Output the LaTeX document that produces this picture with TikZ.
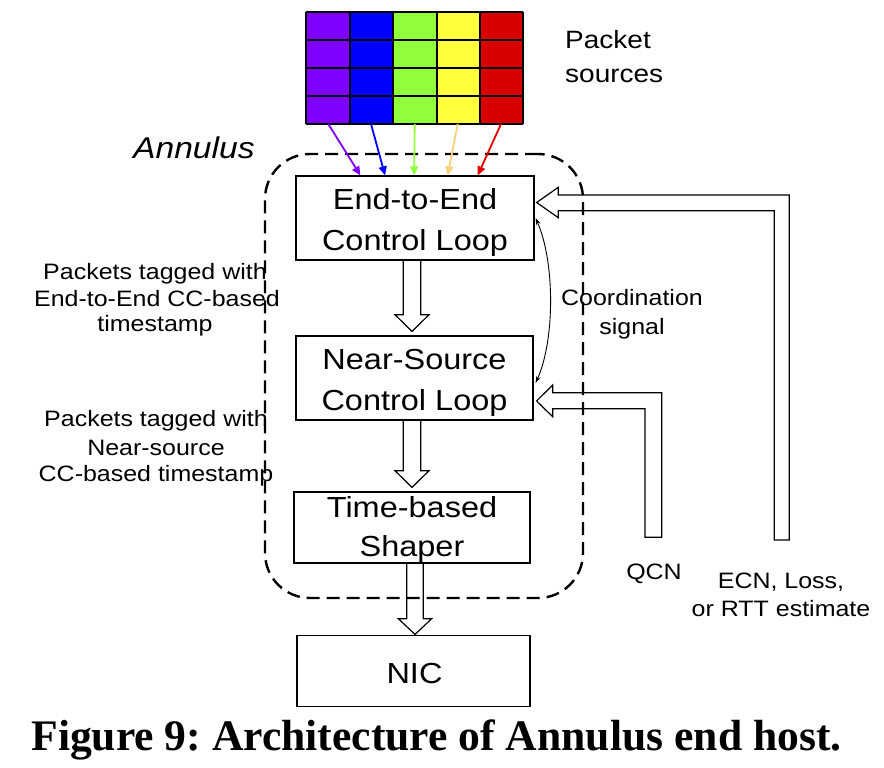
\documentclass[tikz,border=0pt]{standalone}
\usepackage{fontspec}
\setmainfont{Liberation Sans}[FakeStretch=1.12]
\newfontfamily\capfont{Liberation Serif}
\usetikzlibrary{arrows.meta,calc}
\definecolor{cpur}{HTML}{8000FF}
\definecolor{cblu}{HTML}{0000FF}
\definecolor{cgrn}{HTML}{92FF3C}
\definecolor{cyel}{HTML}{FFFF3C}
\definecolor{cred}{HTML}{D80000}
\definecolor{aorg}{HTML}{F5D27A}
\definecolor{ared}{HTML}{E00000}
\frenchspacing
\begin{document}
\begin{tikzpicture}[x=1pt,y=-1pt,
  box/.style={draw, line width=1.2pt, inner sep=0},
  big/.style={font=\fontsize{29}{35}\selectfont, anchor=base, inner sep=0},
  small/.style={font=\fontsize{22.3}{26}\selectfont, anchor=base, inner sep=0},
  mid/.style={font=\fontsize{25}{30}\selectfont, anchor=base west, inner sep=0},
  hollow/.style={draw, line width=1.2pt, line join=miter},
  src/.style={line width=1.8pt, -{Triangle[length=9pt,width=8pt]}},
  ann/.style={draw, line width=2.4pt, dash pattern=on 13pt off 7pt, rounded corners=45pt, inner sep=0}
]
\useasboundingbox (0,0) rectangle (884,768);

% packet source grid
\fill[cpur] (305.7,11.7) rectangle (350,124);
\fill[cblu] (350,11.7) rectangle (393.3,124);
\fill[cgrn] (393.3,11.7) rectangle (436.7,124);
\fill[cyel] (436.7,11.7) rectangle (480.3,124);
\fill[cred] (480.3,11.7) rectangle (523.3,124);
\foreach \x in {305.7,350,393.3,436.7,480.3,523.3}
  \draw[line width=2pt] (\x,11.7) -- (\x,124);
\foreach \y in {11.7,39.7,67.7,96,124}
  \draw[line width=2pt] (305.7,\y) -- (523.3,\y);

% boxes
\node[box, minimum width=238pt, minimum height=84pt] (e2e) at (415,218) {};
\node[box, minimum width=237pt, minimum height=84pt] (ns) at (414.5,378) {};
\node[box, minimum width=236pt, minimum height=71pt] (shp) at (412,527.5) {};
\node[box, minimum width=233pt, minimum height=71pt] (nic) at (413.5,671.2) {};

% annulus boundary
\node[ann, minimum width=318pt, minimum height=444pt] (annb) at (424,376) {};

% box texts
\node[big] (t1a) at (415,209) {End-to-End};
\node[big] (t1b) at (415,250) {Control Loop};
\node[big] (t2a) at (414.5,369) {Near-Source};
\node[big] (t2b) at (414.5,410) {Control Loop};
\node[big] (t3a) at (412,517) {Time-based};
\node[big] (t3b) at (412,556) {Shaper};
\node[big] (t4) at (414.5,683) {NIC};

% labels
\node[font=\fontsize{30}{36}\selectfont\itshape, anchor=base west, inner sep=0] (annl) at (133,158) {Annulus};
\node[mid] (ps1) at (565,48.3) {Packet};
\node[mid] (ps2) at (565,82) {sources};
\node[small] (l1a) at (155,279.3) {Packets tagged with};
\node[small] (l1b) at (157,306.7) {End-to-End CC-based};
\node[small] (l1c) at (155,331.7) {timestamp};
\node[small] (l2a) at (156,426.7) {Packets tagged with};
\node[small] (l2b) at (156,455) {Near-source};
\node[small] (l2c) at (156,481.7) {CC-based timestamp};
\node[small] (cs1) at (632,305) {Coordination};
\node[small] (cs2) at (632,334) {signal};
\node[small] (qcn) at (654,579) {QCN};
\node[small] (ecn1) at (781,588.3) {ECN, Loss,};
\node[small] (ecn2) at (781,616.7) {or RTT estimate};

% coloured source arrows
\coordinate (s1) at (328.3,124);
\coordinate (s2) at (371,124);
\coordinate (s3) at (414.7,124);
\coordinate (s4) at (457.7,124);
\coordinate (s5) at (501,124);
\draw[src, cpur] (s1) -- ($(e2e.north west)+(65,0)$);
\draw[src, cblu] (s2) -- ($(e2e.north west)+(89.7,0)$);
\draw[src, cgrn] (s3) -- ($(e2e.north west)+(118.7,0)$);
\draw[src, aorg] (s4) -- ($(e2e.north west)+(152.3,0)$);
\draw[src, ared] (s5) -- ($(e2e.north west)+(182.3,0)$);

% hollow downward arrows
\draw[hollow] let \p1=(e2e.south), \p2=(ns.north) in
  (403.3,\y1) -- (403.3,\y2+20.7pt) -- (395,\y2+20.7pt) -- (412,\y2+4pt)
  -- (429,\y2+20.7pt) -- (420.7,\y2+20.7pt) -- (420.7,\y1);
\draw[hollow] let \p1=(ns.south), \p2=(shp.north) in
  (403.3,\y1) -- (403.3,\y2+20.7pt) -- (395,\y2+20.7pt) -- (412,\y2+4pt)
  -- (429,\y2+20.7pt) -- (420.7,\y2+20.7pt) -- (420.7,\y1);
\draw[hollow] let \p1=(shp.south), \p2=(nic.north) in
  (406.7,\y1) -- (406.7,\y2+16.4pt) -- (398.3,\y2+16.4pt) -- (415,\y2+0.7pt)
  -- (431.7,\y2+16.4pt) -- (423.3,\y2+16.4pt) -- (423.3,\y1);

% feedback arrows
\draw[hollow] let \p1=(e2e.east) in
  (\x1+2pt,-202.5pt) -- (558.3,187.3) -- (558.3,195) -- (789.3,195)
  -- (789.3,540) -- (774.3,540) -- (774.3,210.7) -- (558.3,210.7)
  -- (558.3,217.7) -- cycle;
\draw[hollow] let \p1=(ns.east) in
  (\x1+3pt,-401pt) -- (552.7,385) -- (552.7,392.7) -- (661.7,392.7)
  -- (661.7,537.3) -- (645,537.3) -- (645,408.7) -- (552.7,408.7)
  -- (552.7,416.7) -- cycle;

% coordination signal
\draw[line width=0.9pt, {Stealth[length=7pt,width=4.5pt]}-{Stealth[length=7pt,width=4.5pt]}]
  ($(e2e.east)+(1,0)$) .. controls (555,262) and (555,340) .. ($(ns.east)+(2,5)$);

% caption
\node[font=\capfont\bfseries\fontsize{43.6}{50}\selectfont, anchor=base, inner sep=0] (cap) at (436.5,750) {Figure 9: Architecture of Annulus end host.};
\end{tikzpicture}
\end{document}
